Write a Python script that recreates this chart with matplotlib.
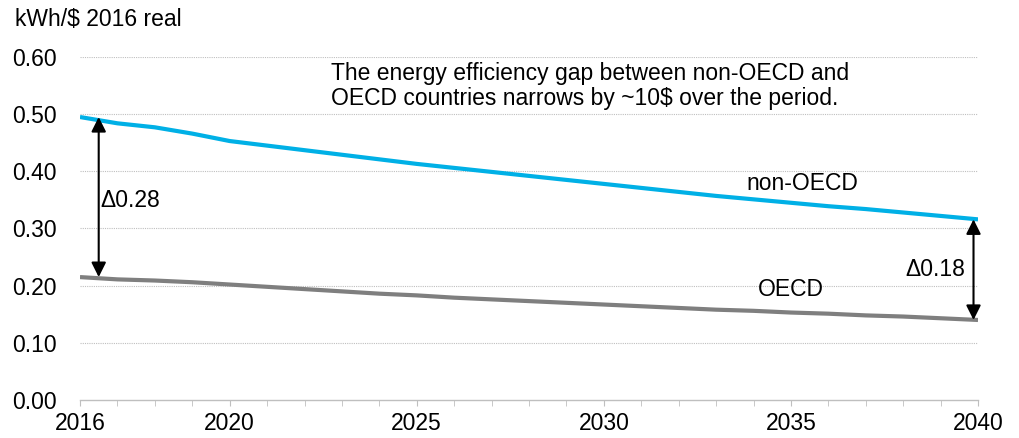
import numpy as np
import matplotlib.pyplot as plt

plt.rcParams['font.family'] = ['Liberation Sans', 'DejaVu Sans']

years = list(range(2016, 2041))
non_oecd = [0.495, 0.484, 0.477, 0.466, 0.453, 0.445, 0.437, 0.429, 0.421, 0.413,
            0.406, 0.399, 0.392, 0.385, 0.378, 0.371, 0.364, 0.357, 0.351, 0.345,
            0.339, 0.334, 0.328, 0.322, 0.316]
oecd = [0.215, 0.211, 0.209, 0.206, 0.202, 0.198, 0.194, 0.190, 0.186, 0.183,
        0.179, 0.176, 0.173, 0.170, 0.167, 0.164, 0.161, 0.158, 0.156, 0.153,
        0.151, 0.148, 0.146, 0.143, 0.140]
major_ticks = [2016, 2020, 2025, 2030, 2035, 2040]
y_ticks = [0.0, 0.1, 0.2, 0.3, 0.4, 0.5, 0.6]

FS = 16.5

fig = plt.figure(figsize=(10.19, 4.38), dpi=100)
ax = fig.add_axes([80 / 1019, 1 - 400 / 438, 898 / 1019, 343 / 438])

ax.plot(years, non_oecd, color='#00B0E6', lw=3, solid_capstyle='butt', zorder=3)
ax.plot(years, oecd, color='#7F7F7F', lw=3, solid_capstyle='butt', zorder=3)

ax.set_xlim(2016, 2040)
ax.set_ylim(0, 0.6)
ax.set_yticks(y_ticks)
ax.set_yticklabels([f"{v:.2f}" for v in y_ticks])
ax.set_xticks(major_ticks)
ax.set_xticks(years, minor=True)
ax.tick_params(axis='y', length=0, labelsize=FS, pad=16.5)
ax.tick_params(axis='x', which='major', length=4.5, color='#BFBFBF', labelsize=FS, pad=4, direction='out')
ax.tick_params(axis='x', which='minor', length=4.5, color='#BFBFBF', direction='out')

for s in ['top', 'right', 'left']:
    ax.spines[s].set_visible(False)
ax.spines['bottom'].set_color('#BFBFBF')
ax.spines['bottom'].set_linewidth(1)

for v in y_ticks[1:]:
    ax.axhline(v, color='#BFBFBF', lw=0.8, ls=(0, (1, 1)), zorder=1)

# gap arrows
ax.annotate('', xy=(2016.5, non_oecd[0]), xytext=(2016.5, oecd[0]),
            arrowprops=dict(arrowstyle='<|-|>', color='black', lw=1.5, mutation_scale=22,
                            shrinkA=0, shrinkB=0))
ax.annotate('', xy=(2039.88, non_oecd[-1]), xytext=(2039.88, oecd[-1]),
            arrowprops=dict(arrowstyle='<|-|>', color='black', lw=1.5, mutation_scale=22,
                            shrinkA=0, shrinkB=0))
ax.text(2016.55, 0.349, 'Δ0.28', fontsize=FS, va='center', ha='left')
ax.text(2039.65, 0.228, 'Δ0.18', fontsize=FS, va='center', ha='right')

ax.text(2022.7, 0.591, 'The energy efficiency gap between non-OECD and\n'
        'OECD countries narrows by ~10\\$ over the period.',
        fontsize=FS, va='top', ha='left', linespacing=1.1)
ax.text(2035.3, 0.379, 'non-OECD', fontsize=FS, va='center', ha='center')
ax.text(2035.0, 0.193, 'OECD', fontsize=FS, va='center', ha='center')

fig.text(15 / 1019, 1 - 20 / 438, 'kWh/\\$ 2016 real', fontsize=FS, va='center', ha='left')

fig.savefig('out.png', dpi=100)
